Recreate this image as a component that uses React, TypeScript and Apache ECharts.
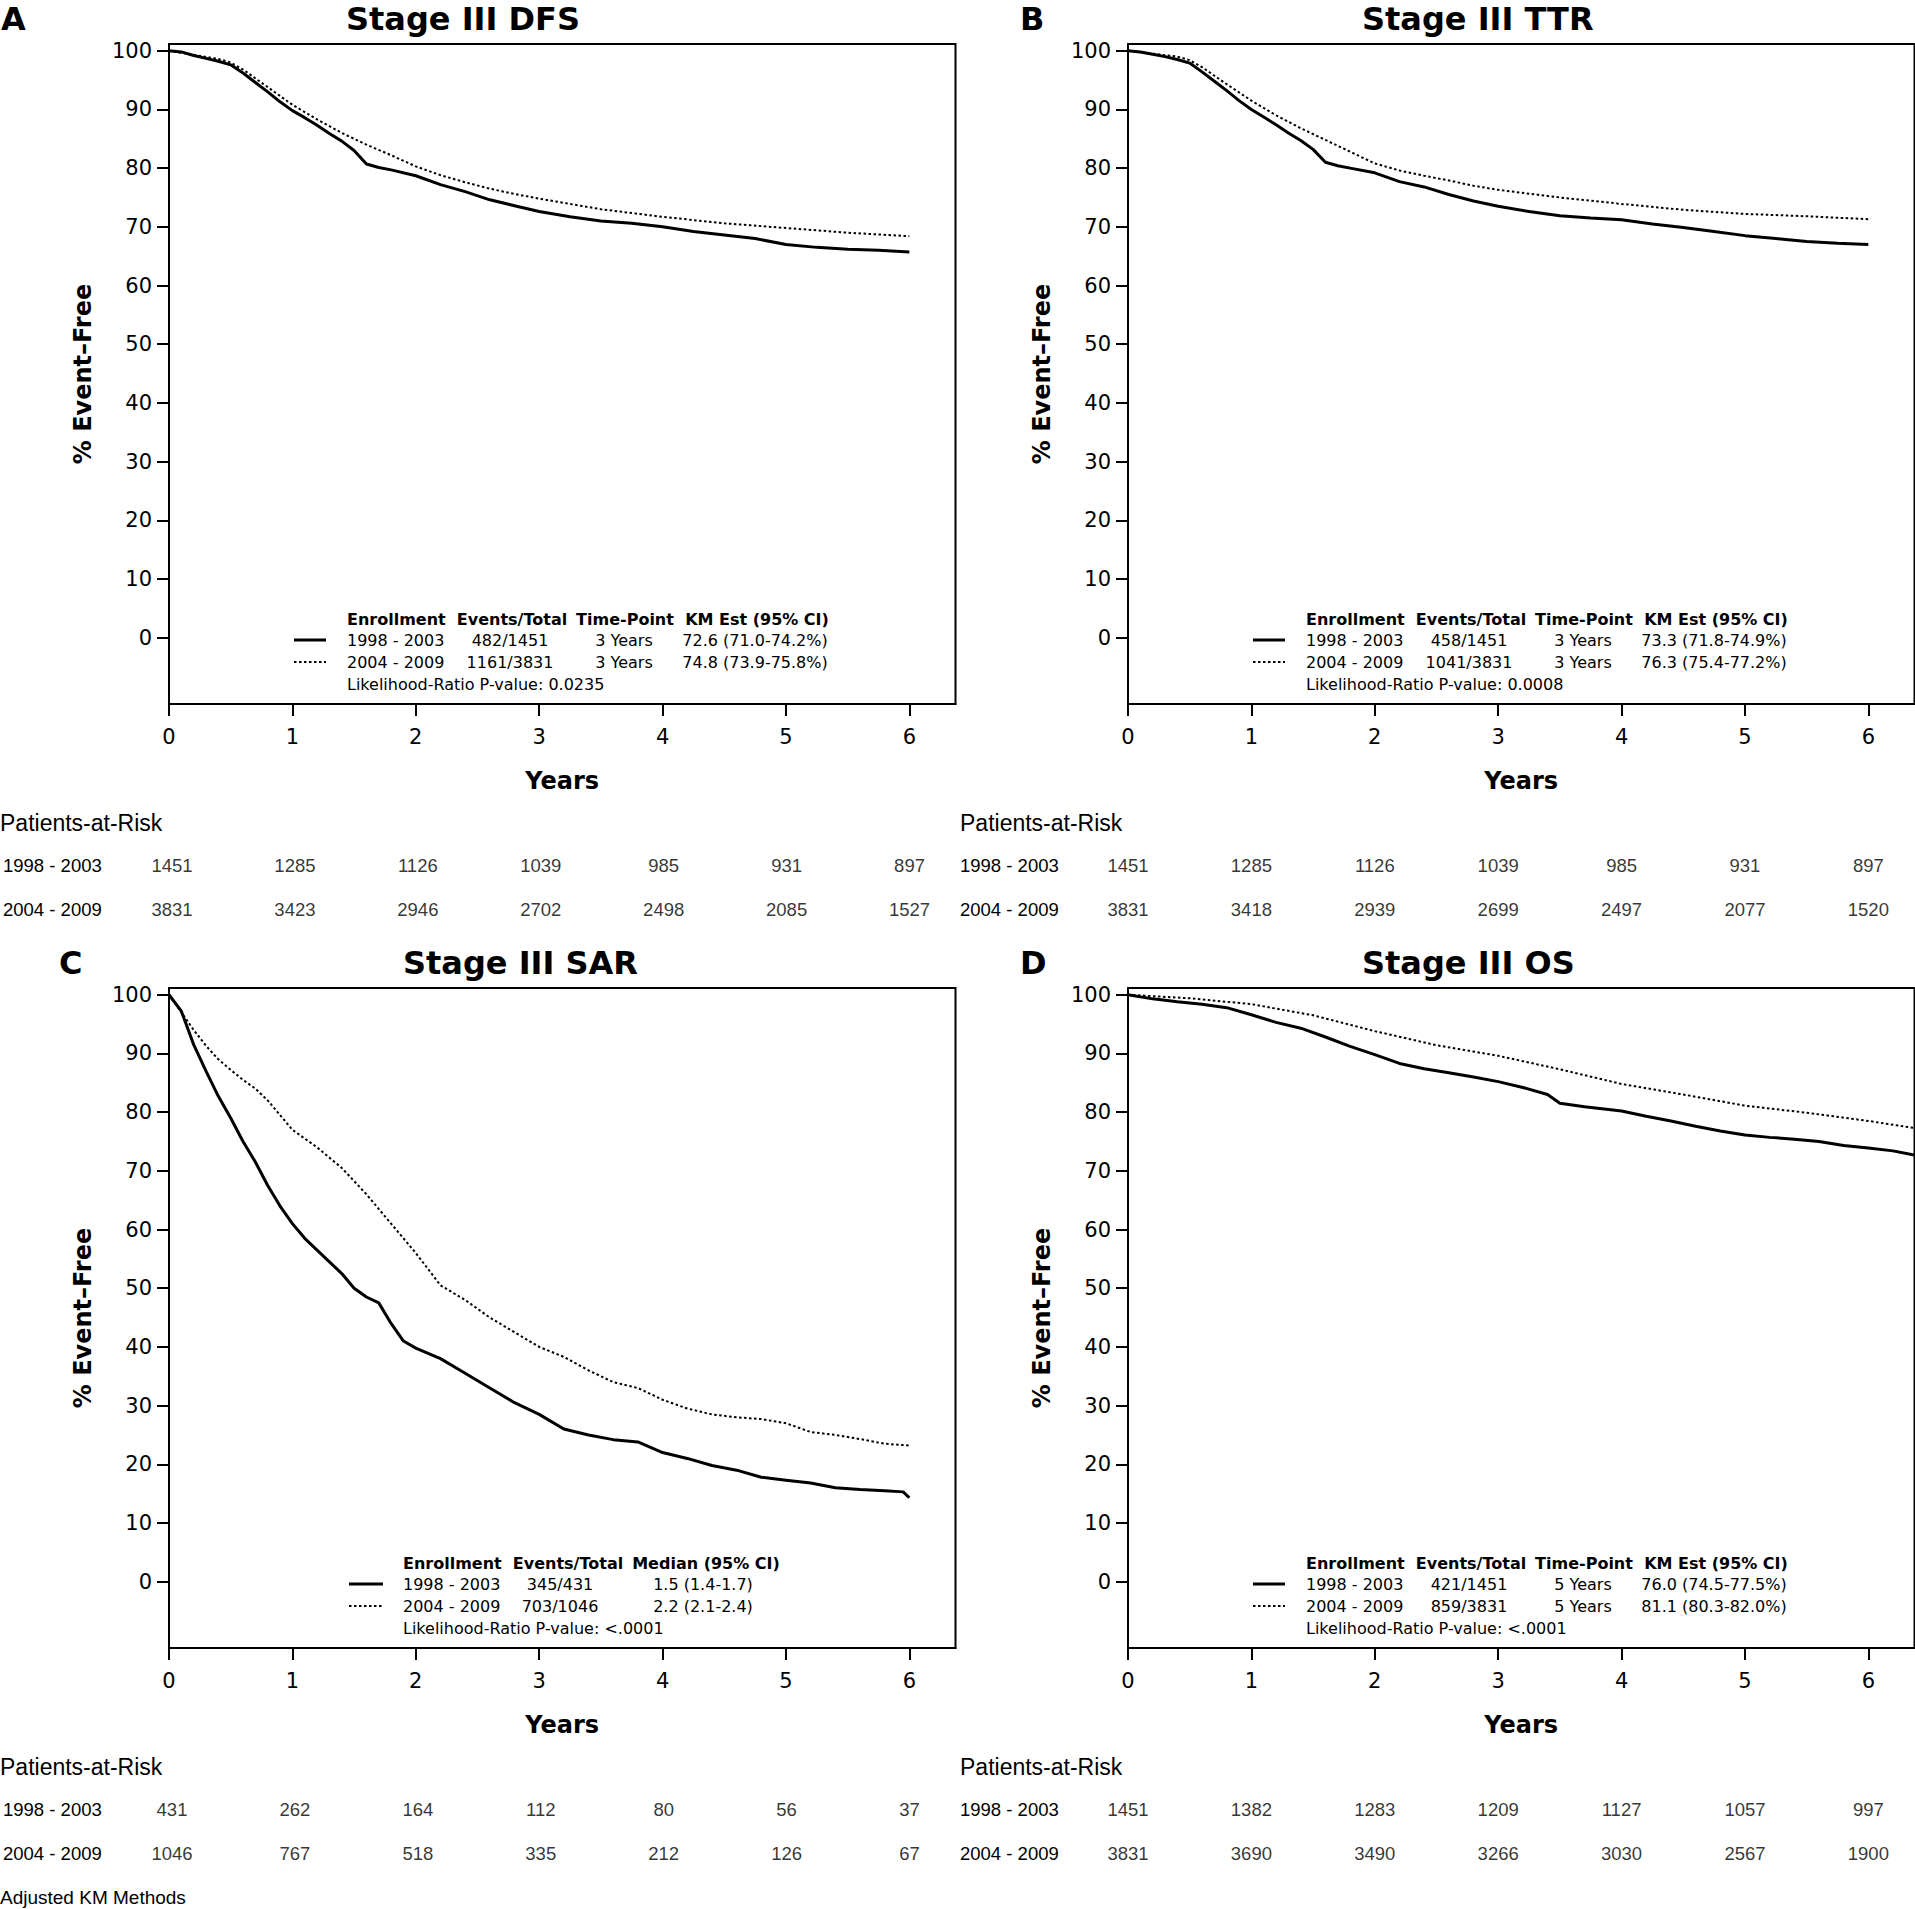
import React, { useEffect, useRef } from "react";
import * as echarts from "echarts";

// ---------- axis ticks ----------
const yearTicks = [0, 1, 2, 3, 4, 5, 6];
const pctTicks = [0, 10, 20, 30, 40, 50, 60, 70, 80, 90, 100];
const cohortLabels = ["1998 - 2003", "2004 - 2009"];

// ---------- Panel A: Stage III DFS ----------
const dfsEarlyT = [0, 0.1, 0.2, 0.3, 0.4, 0.5, 0.6, 0.7, 0.8, 0.9, 1.0, 1.1, 1.2, 1.3, 1.4, 1.5, 1.6, 1.7, 1.8, 2.0, 2.2, 2.4, 2.6, 2.8, 3.0, 3.25, 3.5, 3.75, 4.0, 4.25, 4.5, 4.75, 5.0, 5.25, 5.5, 5.75, 6.0];
const dfsEarlyV = [100, 99.8, 99.2, 98.7, 98.2, 97.6, 96.2, 94.6, 93.0, 91.3, 89.8, 88.6, 87.3, 85.9, 84.6, 83.0, 80.7, 80.1, 79.7, 78.7, 77.2, 76.0, 74.6, 73.6, 72.6, 71.7, 71.0, 70.6, 70.0, 69.2, 68.6, 68.0, 67.0, 66.5, 66.2, 66.0, 65.7];
const dfsLateT = [0, 0.2, 0.4, 0.5, 0.6, 0.8, 1.0, 1.2, 1.4, 1.6, 1.8, 2.0, 2.2, 2.4, 2.6, 2.8, 3.0, 3.5, 4.0, 4.5, 5.0, 5.5, 6.0];
const dfsLateV = [100, 99.3, 98.6, 98.0, 96.8, 93.8, 90.8, 88.3, 86.0, 84.0, 82.2, 80.3, 78.8, 77.6, 76.5, 75.6, 74.8, 73.0, 71.7, 70.6, 69.8, 69.0, 68.4];
const dfsRiskEarly = [1451, 1285, 1126, 1039, 985, 931, 897];
const dfsRiskLate = [3831, 3423, 2946, 2702, 2498, 2085, 1527];
const dfsEvents = ["482/1451", "1161/3831"];
const dfsTimePoint = ["3 Years", "3 Years"];
const dfsEst = ["72.6 (71.0-74.2%)", "74.8 (73.9-75.8%)"];
const dfsP = "Likelihood-Ratio P-value: 0.0235";

// ---------- Panel B: Stage III TTR ----------
const ttrEarlyT = [0, 0.1, 0.2, 0.3, 0.4, 0.5, 0.6, 0.7, 0.8, 0.9, 1.0, 1.1, 1.2, 1.3, 1.4, 1.5, 1.6, 1.7, 1.8, 2.0, 2.2, 2.4, 2.6, 2.8, 3.0, 3.25, 3.5, 3.75, 4.0, 4.25, 4.5, 4.75, 5.0, 5.25, 5.5, 5.75, 6.0];
const ttrEarlyV = [100, 99.8, 99.4, 99.0, 98.5, 97.9, 96.4, 94.8, 93.2, 91.5, 90.0, 88.7, 87.4, 86.0, 84.7, 83.2, 81.0, 80.4, 80.0, 79.2, 77.7, 76.8, 75.5, 74.4, 73.5, 72.6, 71.9, 71.5, 71.2, 70.5, 69.9, 69.2, 68.5, 68.0, 67.5, 67.2, 67.0];
const ttrLateT = [0, 0.2, 0.4, 0.5, 0.6, 0.8, 1.0, 1.2, 1.4, 1.6, 1.8, 2.0, 2.2, 2.4, 2.6, 2.8, 3.0, 3.5, 4.0, 4.5, 5.0, 5.5, 6.0];
const ttrLateV = [100, 99.5, 99.0, 98.4, 97.2, 94.3, 91.5, 89.0, 86.8, 84.8, 82.8, 80.8, 79.6, 78.7, 77.9, 77.0, 76.3, 75.0, 73.9, 72.9, 72.2, 71.8, 71.3];
const ttrRiskEarly = [1451, 1285, 1126, 1039, 985, 931, 897];
const ttrRiskLate = [3831, 3418, 2939, 2699, 2497, 2077, 1520];
const ttrEvents = ["458/1451", "1041/3831"];
const ttrTimePoint = ["3 Years", "3 Years"];
const ttrEst = ["73.3 (71.8-74.9%)", "76.3 (75.4-77.2%)"];
const ttrP = "Likelihood-Ratio P-value: 0.0008";

// ---------- Panel C: Stage III SAR ----------
const sarEarlyT = [0, 0.1, 0.2, 0.3, 0.4, 0.5, 0.6, 0.7, 0.8, 0.9, 1.0, 1.1, 1.2, 1.3, 1.4, 1.5, 1.6, 1.7, 1.8, 1.9, 2.0, 2.2, 2.4, 2.6, 2.8, 3.0, 3.2, 3.4, 3.6, 3.8, 4.0, 4.2, 4.4, 4.6, 4.8, 5.0, 5.2, 5.4, 5.6, 5.8, 5.95, 6.0];
const sarEarlyV = [100, 97.2, 91.5, 87.0, 82.7, 79.0, 75.0, 71.5, 67.5, 64.0, 61.0, 58.5, 56.5, 54.5, 52.5, 50.0, 48.5, 47.5, 44.0, 41.0, 39.8, 38.0, 35.5, 33.0, 30.5, 28.5, 26.0, 25.0, 24.2, 23.8, 22.0, 21.0, 19.8, 19.0, 17.8, 17.3, 16.8, 16.0, 15.7, 15.5, 15.3, 14.3];
const sarLateT = [0, 0.1, 0.2, 0.3, 0.4, 0.5, 0.6, 0.7, 0.8, 0.9, 1.0, 1.2, 1.4, 1.6, 1.8, 2.0, 2.2, 2.4, 2.6, 2.8, 3.0, 3.2, 3.4, 3.6, 3.8, 4.0, 4.2, 4.4, 4.6, 4.8, 5.0, 5.2, 5.4, 5.6, 5.8, 6.0];
const sarLateV = [100, 97.0, 94.0, 91.3, 89.0, 87.2, 85.5, 84.0, 82.0, 79.5, 77.0, 74.0, 70.5, 66.0, 61.0, 56.0, 50.5, 48.0, 45.0, 42.5, 40.0, 38.3, 36.0, 34.0, 33.0, 31.0, 29.5, 28.5, 28.0, 27.7, 27.0, 25.5, 25.0, 24.3, 23.5, 23.2];
const sarRiskEarly = [431, 262, 164, 112, 80, 56, 37];
const sarRiskLate = [1046, 767, 518, 335, 212, 126, 67];
const sarEvents = ["345/431", "703/1046"];
const sarMedian = ["1.5 (1.4-1.7)", "2.2 (2.1-2.4)"];
const sarP = "Likelihood-Ratio P-value: <.0001";

// ---------- Panel D: Stage III OS ----------
const osEarlyT = [0, 0.2, 0.4, 0.6, 0.8, 1.0, 1.2, 1.4, 1.6, 1.8, 2.0, 2.2, 2.4, 2.6, 2.8, 3.0, 3.2, 3.4, 3.5, 3.7, 4.0, 4.2, 4.4, 4.6, 4.8, 5.0, 5.2, 5.4, 5.6, 5.8, 6.0, 6.2, 6.37];
const osEarlyV = [100, 99.3, 98.8, 98.4, 97.8, 96.6, 95.3, 94.3, 92.8, 91.2, 89.8, 88.3, 87.4, 86.7, 86.0, 85.2, 84.2, 83.0, 81.5, 80.9, 80.2, 79.3, 78.5, 77.6, 76.8, 76.1, 75.7, 75.4, 75.0, 74.3, 73.9, 73.4, 72.7];
const osLateT = [0, 0.5, 1.0, 1.5, 2.0, 2.5, 3.0, 3.5, 4.0, 4.5, 5.0, 5.5, 6.0, 6.37];
const osLateV = [100, 99.4, 98.4, 96.5, 93.8, 91.4, 89.6, 87.3, 84.8, 83.0, 81.1, 79.9, 78.5, 77.3];
const osRiskEarly = [1451, 1382, 1283, 1209, 1127, 1057, 997];
const osRiskLate = [3831, 3690, 3490, 3266, 3030, 2567, 1900];
const osEvents = ["421/1451", "859/3831"];
const osTimePoint = ["5 Years", "5 Years"];
const osEst = ["76.0 (74.5-77.5%)", "81.1 (80.3-82.0%)"];
const osP = "Likelihood-Ratio P-value: <.0001";

const kmHeaders = ["Enrollment", "Events/Total", "Time-Point", "KM Est (95% CI)"];
const medianHeaders = ["Enrollment", "Events/Total", "Median (95% CI)"];

// ---------- layout ----------
const FONT = "'DejaVu Sans', sans-serif";
const RISK_FONT = "'Liberation Sans', Arial, sans-serif";
const GW = 786.5;
const GH = 660;
const X_MAX = 6.374;
const Y_MIN = -11.3;
const Y_MAX = 101.15;

const kmLegendLayout = { line: [125, 157], text: 178, head: [343, 456, 588], row: [341, 455, 586] };
const medLegendLayout = { line: [180, 214], text: 234, head: [399, 537], row: [391, 534] };

const panels = [
  { letter: "A", title: "Stage III DFS", left: 169, top: 44, titleX: 346, letterX: 1, labelX: 0,
    curves: [[dfsEarlyT, dfsEarlyV], [dfsLateT, dfsLateV]], risk: [dfsRiskEarly, dfsRiskLate],
    headers: kmHeaders, cols: [dfsEvents, dfsTimePoint, dfsEst], p: dfsP, lay: kmLegendLayout },
  { letter: "B", title: "Stage III TTR", left: 1128, top: 44, titleX: 1362, letterX: 1020, labelX: 960,
    curves: [[ttrEarlyT, ttrEarlyV], [ttrLateT, ttrLateV]], risk: [ttrRiskEarly, ttrRiskLate],
    headers: kmHeaders, cols: [ttrEvents, ttrTimePoint, ttrEst], p: ttrP, lay: kmLegendLayout },
  { letter: "C", title: "Stage III SAR", left: 169, top: 988, titleX: 403, letterX: 59, labelX: 0,
    curves: [[sarEarlyT, sarEarlyV], [sarLateT, sarLateV]], risk: [sarRiskEarly, sarRiskLate],
    headers: medianHeaders, cols: [sarEvents, sarMedian], p: sarP, lay: medLegendLayout },
  { letter: "D", title: "Stage III OS", left: 1128, top: 988, titleX: 1362, letterX: 1020, labelX: 960,
    curves: [[osEarlyT, osEarlyV], [osLateT, osLateV]], risk: [osRiskEarly, osRiskLate],
    headers: kmHeaders, cols: [osEvents, osTimePoint, osEst], p: osP, lay: kmLegendLayout },
];

function txt(x: number, y: number, text: string, font: string, align = "left", rotation = 0) {
  return {
    type: "text",
    x,
    y,
    rotation,
    silent: true,
    style: { text, font, fill: "#000", align, verticalAlign: "middle", textAlign: align, textVerticalAlign: "middle" },
  };
}

function buildOption() {
  const grid: any[] = [];
  const xAxis: any[] = [];
  const yAxis: any[] = [];
  const series: any[] = [];
  const graphic: any[] = [];

  panels.forEach((p) => {
    const gi = grid.length;
    const bottom = p.top + GH;
    grid.push({ left: p.left, top: p.top, width: GW, height: GH, show: true, borderColor: "#000", borderWidth: 2, backgroundColor: "transparent" });
    xAxis.push({
      gridIndex: gi, type: "value", min: 0, max: X_MAX,
      axisLine: { show: true, onZero: false, lineStyle: { color: "#000", width: 2 } },
      axisTick: { show: true, length: 12, customValues: yearTicks, lineStyle: { color: "#000", width: 2 } },
      axisLabel: { customValues: yearTicks, color: "#000", fontFamily: FONT, fontSize: 21, margin: 22,
        formatter: (v: number) => (Number.isInteger(v) ? String(v) : "") },
      splitLine: { show: false },
    });
    yAxis.push({
      gridIndex: gi, type: "value", min: Y_MIN, max: Y_MAX,
      axisLine: { show: true, onZero: false, lineStyle: { color: "#000", width: 2 } },
      axisTick: { show: true, length: 12, customValues: pctTicks, lineStyle: { color: "#000", width: 2 } },
      axisLabel: { customValues: pctTicks, color: "#000", fontFamily: FONT, fontSize: 21, margin: 17,
        formatter: (v: number) => (Number.isInteger(v) && v % 10 === 0 && v >= 0 ? String(v) : "") },
      splitLine: { show: false },
    });
    const [early, late] = p.curves;
    series.push({
      type: "line", xAxisIndex: gi, yAxisIndex: gi, showSymbol: false, symbol: "none", silent: true,
      data: early[0].map((t, k) => [t, early[1][k]]),
      lineStyle: { color: "#000", width: 3 }, z: 5,
    });
    series.push({
      type: "line", xAxisIndex: gi, yAxisIndex: gi, showSymbol: false, symbol: "none", silent: true,
      data: late[0].map((t, k) => [t, late[1][k]]),
      lineStyle: { color: "#000", width: 2, type: [2.5, 2.5] }, z: 5,
    });

    // at-risk table grid
    const ri = grid.length;
    grid.push({ left: p.left, top: bottom + 139, width: GW, height: 88, show: false });
    xAxis.push({ gridIndex: ri, type: "value", min: 0, max: X_MAX, show: false });
    yAxis.push({
      gridIndex: ri, type: "category", data: [cohortLabels[1], cohortLabels[0]],
      axisLine: { show: false }, axisTick: { show: false }, splitLine: { show: false },
      axisLabel: { align: "left", margin: p.left - p.labelX, color: "#000", fontFamily: RISK_FONT, fontSize: 18.5 },
    });
    const riskData: any[] = [];
    p.risk[0].forEach((n, k) => riskData.push([yearTicks[k], 1, n]));
    p.risk[1].forEach((n, k) => riskData.push([yearTicks[k], 0, n]));
    series.push({
      type: "scatter", xAxisIndex: ri, yAxisIndex: ri, symbolSize: 1, silent: true,
      itemStyle: { color: "transparent" },
      data: riskData,
      label: { show: true, position: "inside", formatter: (q: any) => String(q.value[2]), color: "#000", fontFamily: RISK_FONT, fontSize: 18.5 },
    });

    // texts
    graphic.push(txt(p.letterX, p.top - 25, p.letter, `bold 32px ${FONT}`));
    graphic.push(txt(p.titleX, p.top - 25, p.title, `bold 32px ${FONT}`));
    graphic.push(txt(p.left - 86, p.top + GH / 2, "% Event\u2013Free", `bold 24px ${FONT}`, "center", Math.PI / 2));
    graphic.push(txt(p.left + GW / 2, bottom + 77, "Years", `bold 24px ${FONT}`, "center"));
    graphic.push(txt(p.labelX, bottom + 119, "Patients-at-Risk", `23px ${RISK_FONT}`));

    // legend table
    const L = p.lay;
    const yHead = bottom - 85;
    const yRows = [bottom - 64, bottom - 42];
    graphic.push(txt(p.left + L.text, yHead, p.headers[0], `bold 16px ${FONT}`));
    p.headers.slice(1).forEach((h, k) => graphic.push(txt(p.left + L.head[k], yHead, h, `bold 16px ${FONT}`, "center")));
    yRows.forEach((yy, r) => {
      graphic.push({
        type: "line", silent: true,
        shape: { x1: p.left + L.line[0], y1: yy, x2: p.left + L.line[1], y2: yy },
        style: r === 0 ? { stroke: "#000", lineWidth: 3 } : { stroke: "#000", lineWidth: 2, lineDash: [2.5, 2.5] },
      });
      graphic.push(txt(p.left + L.text, yy, cohortLabels[r], `16px ${FONT}`));
      p.cols.forEach((col, k) => graphic.push(txt(p.left + L.row[k], yy, col[r], `16px ${FONT}`, "center")));
    });
    graphic.push(txt(p.left + L.text, bottom - 20, p.p, `16px ${FONT}`));
  });

  graphic.push(txt(0, 1897, "Adjusted KM Methods", `19px ${RISK_FONT}`));

  return {
    animation: false,
    backgroundColor: "#fff",
    grid,
    xAxis,
    yAxis,
    series,
    graphic: { elements: graphic },
  };
}

export default function App() {
  const ref = useRef<HTMLDivElement>(null);
  useEffect(() => {
    document.body.style.margin = "0";
    if (!ref.current) return;
    const chart = echarts.init(ref.current, undefined, { renderer: "svg" });
    chart.setOption(buildOption() as any);
    return () => chart.dispose();
  }, []);
  return <div ref={ref} style={{ width: 1915, height: 1909 }} />;
}
